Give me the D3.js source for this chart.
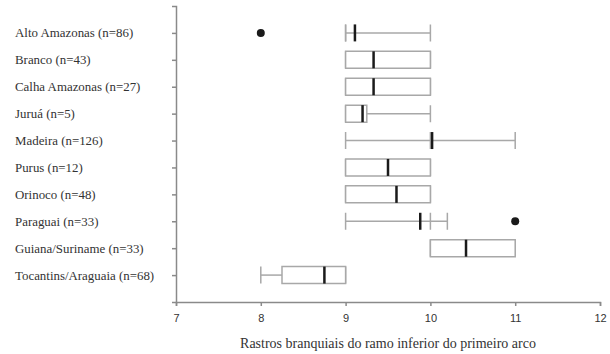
<!DOCTYPE html>
<html>
<head>
<meta charset="utf-8">
<script src="https://cdn.jsdelivr.net/npm/d3@7"></script>
<style>
  html, body { margin: 0; padding: 0; background: #fff; }
  svg { display: block; }
  .serif { font-family: "Liberation Serif", "Times New Roman", serif; }
  .sans { font-family: "Liberation Sans", Arial, sans-serif; }
</style>
</head>
<body>
<svg id="chart" width="610" height="354"></svg>
<script>
// Basins and sample sizes
const basins = ["Alto Amazonas (n=86)", "Branco (n=43)", "Calha Amazonas (n=27)", "Juruá (n=5)",
  "Madeira (n=126)", "Purus (n=12)", "Orinoco (n=48)", "Paraguai (n=33)",
  "Guiana/Suriname (n=33)", "Tocantins/Araguaia (n=68)"];
// Five-number summaries per basin
const whiskerLow  = [9,    9,    9,    9,    9,     9,   9,   9,    10,    8];
const boxLow      = [9,    9,    9,    9,    10,    9,   9,   10,   10,    8.25];
const centre      = [9.11, 9.33, 9.33, 9.2,  10.02, 9.5, 9.6, 9.88, 10.42, 8.75];
const boxHigh     = [9,    10,   10,   9.25, 10,    10,  10,  10,   11,    9];
const whiskerHigh = [10,   10,   10,   10,   11,    10,  10,  10.2, 11,    9];
// Outlying counts
const outliers = [[8], [], [], [], [], [], [], [11], [], []];
const xTicks = [7, 8, 9, 10, 11, 12];
const xTitle = "Rastros branquiais do ramo inferior do primeiro arco";

const rows = basins.map((name, i) => ({
  name, i,
  lo: whiskerLow[i], q1: boxLow[i], mid: centre[i], q3: boxHigh[i], hi: whiskerHigh[i],
  out: outliers[i]
}));

const svg = d3.select("#chart");
const plotLeft = 176, plotRight = 600, plotTop = 6, plotBottom = 302;

const x = d3.scaleLinear().domain([7, 12]).range([plotLeft, plotRight]);
const y = d3.scaleLinear().domain([0, basins.length + 1]).range([plotTop, plotBottom]);
const boxH = 17;
const grey = "#a8a8a8";
const axisGrey = "#8a8a8a";

// Axes
const xAxis = d3.axisBottom(x).tickValues(xTicks).tickFormat(d3.format("d")).tickSize(4).tickPadding(8);
const gx = svg.append("g").attr("transform", `translate(0,${plotBottom})`).call(xAxis);
gx.select(".domain").attr("stroke", axisGrey).attr("stroke-width", 1.5);
gx.selectAll(".tick line").attr("stroke", axisGrey).attr("stroke-width", 1.5);
gx.selectAll(".tick text").attr("class", "sans")
  .attr("font-size", 11).attr("fill", "#333");

const yAxis = d3.axisLeft(y).tickValues(d3.range(1, basins.length + 1)).tickSize(4).tickFormat("");
const gy = svg.append("g").attr("transform", `translate(${plotLeft},0)`).call(yAxis);
gy.select(".domain").attr("stroke", axisGrey).attr("stroke-width", 1.5);
gy.selectAll(".tick line").attr("stroke", axisGrey).attr("stroke-width", 1.5);

// Category labels
svg.append("g").selectAll("text").data(rows).join("text")
  .attr("class", "serif")
  .attr("x", 15).attr("y", d => y(d.i + 1)).attr("dy", "0.35em")
  .attr("font-size", 12.9).attr("fill", "#333")
  .text(d => d.name);

// Axis title
svg.append("text")
  .attr("class", "serif")
  .attr("x", (plotLeft + plotRight) / 2).attr("y", 343).attr("dy", "0.35em")
  .attr("text-anchor", "middle")
  .attr("font-size", 14).attr("fill", "#333")
  .text(xTitle);

// Box plots
const g = svg.append("g").selectAll("g").data(rows).join("g")
  .attr("transform", d => `translate(0,${y(d.i + 1)})`);

const vbar = v => `M${x(v)},${-boxH / 2}V${boxH / 2}`;

// whisker stems
g.append("path")
  .attr("d", d => `M${x(d.lo)},0H${x(d.q1)}M${x(d.q3)},0H${x(d.hi)}`)
  .attr("fill", "none").attr("stroke", grey).attr("stroke-width", 1.5);
// whisker caps
g.append("path")
  .attr("d", d => vbar(d.lo) + vbar(d.hi))
  .attr("fill", "none").attr("stroke", grey).attr("stroke-width", 1.5);
// boxes (a collapsed box draws as a single edge)
g.append("path")
  .attr("d", d => `M${x(d.q1)},${-boxH / 2}H${x(d.q3)}V${boxH / 2}H${x(d.q1)}Z`)
  .attr("fill", "#fff").attr("stroke", grey).attr("stroke-width", 1.5);
// centre line
g.append("path")
  .attr("d", d => vbar(d.mid))
  .attr("stroke", "#1a1a1a").attr("stroke-width", 2.5);
// outliers
g.selectAll("circle").data(d => d.out).join("circle")
  .attr("cx", v => x(v)).attr("cy", 0).attr("r", 4).attr("fill", "#1a1a1a");
</script>
</body>
</html>
